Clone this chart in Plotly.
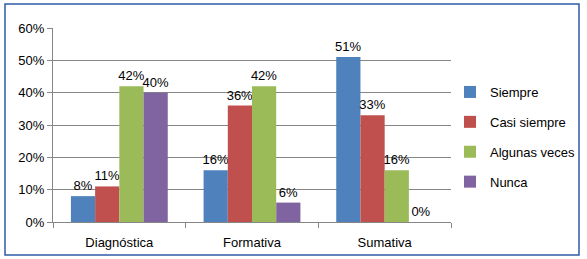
import plotly.graph_objects as go

categories = ["Diagnóstica", "Formativa", "Sumativa"]
series_names = ["Siempre", "Casi siempre", "Algunas veces", "Nunca"]
siempre = [0.08, 0.16, 0.51]
casi_siempre = [0.11, 0.36, 0.33]
algunas_veces = [0.42, 0.42, 0.16]
nunca = [0.40, 0.06, 0.00]
colors = ["#4F81BD", "#C0504D", "#9BBB59", "#8064A2"]
y_ticks = [0, 0.1, 0.2, 0.3, 0.4, 0.5, 0.6]
y_tick_labels = ["0%", "10%", "20%", "30%", "40%", "50%", "60%"]

FONT = "Liberation Sans"
fig = go.Figure()
for name, vals, c in zip(series_names, [siempre, casi_siempre, algunas_veces, nunca], colors):
    fig.add_trace(go.Bar(
        x=categories, y=vals, name=name, marker_color=c, marker_line_width=0,
        legendgroup=name,
        text=[f"{round(v*100)}%" for v in vals], textposition="outside",
        textfont=dict(size=13, color="#000000", family=FONT),
        constraintext="none", cliponaxis=False,
    ))

L, R, T, B = 53, 136, 28, 37
W, H = 587, 259
pw, ph = W - L - R, H - T - B

fig.update_layout(
    width=W, height=H, barmode="group", bargap=0.27, bargroupgap=0,
    margin=dict(l=L, r=R, t=T, b=B, autoexpand=False),
    paper_bgcolor="white", plot_bgcolor="white",
    font=dict(family=FONT, size=13, color="#000000"),
    legend=dict(x=(450 - L) / pw, y=(222 - 137) / ph, xanchor="left", yanchor="middle",
                font=dict(size=13, family=FONT), tracegroupgap=10, itemwidth=30,
                bgcolor="rgba(0,0,0,0)"),
    xaxis=dict(showline=True, linecolor="#868686", linewidth=1, ticks="outside",
               tickson="boundaries", ticklen=5, tickcolor="#868686",
               ticklabelstandoff=8,
               tickfont=dict(size=13, family=FONT), showgrid=False),
    yaxis=dict(range=[0, 0.6], tickvals=y_ticks, ticktext=y_tick_labels,
               showline=True, linecolor="#868686", linewidth=1, ticks="outside",
               ticklen=5, tickcolor="#868686", showgrid=True, gridcolor="#868686",
               gridwidth=1, zeroline=False, tickfont=dict(size=13, family=FONT)),
    shapes=[dict(type="rect", xref="paper", yref="paper",
                 x0=(5 - L) / pw, x1=(579 - L) / pw,
                 y0=(H - B - 255) / ph, y1=(H - B - 4) / ph,
                 line=dict(color="#2E5CA8", width=1.5), fillcolor="rgba(0,0,0,0)", layer="above")],
)
fig.write_html("out.html", config={"displayModeBar": False},
               post_script="document.body.style.margin='0';document.body.style.padding='0';")
